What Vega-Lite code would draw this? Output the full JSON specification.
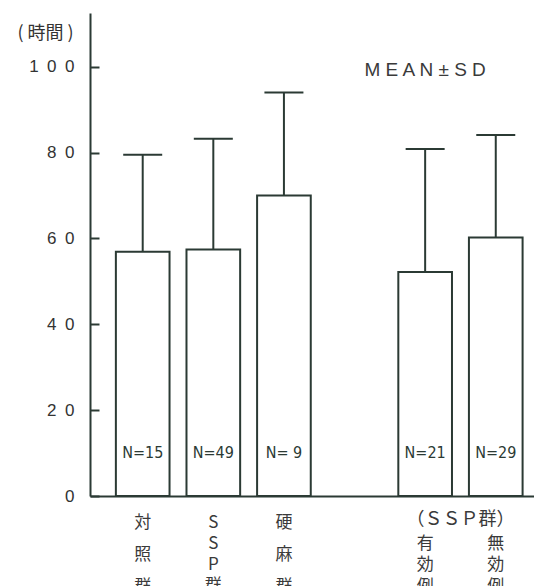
{
  "$schema": "https://vega.github.io/schema/vega-lite/v6.json",
  "width": 444,
  "height": 483,
  "autosize": "none",
  "padding": {"left": 90, "top": 13, "right": 0, "bottom": 90},
  "background": "white",
  "config": {"view": {"stroke": null}, "axis": {"grid": false}},
  "resolve": {"axis": {"y": "independent", "x": "independent"}},
  "data": {"values": [
    {"group": "対照群", "mean": 56.9, "upper": 79.5, "n": "N=15"},
    {"group": "SSP群", "mean": 57.4, "upper": 83.2, "n": "N=49"},
    {"group": "硬麻群", "mean": 70.0, "upper": 94.0, "n": "N= 9"},
    {"group": "有効例", "mean": 52.2, "upper": 80.8, "n": "N=21"},
    {"group": "無効例", "mean": 60.2, "upper": 84.1, "n": "N=29"}
  ]},
  "layer": [
    {
      "mark": {"type": "bar", "fill": "white", "stroke": "#2b3a34", "strokeWidth": 2},
      "encoding": {
        "x": {
          "field": "group", "type": "nominal",
          "scale": {"domain": ["対照群", "SSP群", "硬麻群", "gap", "有効例", "無効例"], "paddingInner": 0.24, "paddingOuter": 0.264, "align": 0.694},
          "axis": {
            "orient": "bottom",
            "title": null, "domain": true, "domainColor": "#2b3a34", "domainWidth": 2, "ticks": false,
            "labelAngle": 0, "labelOverlap": false, "labelBound": false, "labelFlush": false,
            "labelFont": "Noto Sans CJK JP", "labelFontSize": 17, "labelLineHeight": 32, "labelPadding": 18,
            "labelColor": "#3a3a3a", "labelBaseline": "top",
            "labelExpr": "datum.value == '対照群' ? ['対','照','群'] : datum.value == '硬麻群' ? ['硬','麻','群'] : ''"
          }
        },
        "y": {
          "field": "mean", "type": "quantitative",
          "scale": {"domain": [0, 112.5], "nice": false, "zero": true},
          "axis": {
            "orient": "left",
            "values": [0, 20, 40, 60, 80, 100],
            "labelExpr": "datum.value == 100 ? '1\u20020\u20020' : datum.value == 0 ? '0' : (floor(datum.value/10) + '\u20020')",
            "domainColor": "#2b3a34", "domainWidth": 2, "ticks": false,
            "labelPadding": 16, "labelFont": "Liberation Sans", "labelFontSize": 17, "labelColor": "#333333",
            "title": "(  時間  )", "titleAngle": 0, "titleX": -45, "titleY": 20, "titleAlign": "center", "titleBaseline": "middle",
            "titleFont": "Noto Sans CJK JP", "titleFontSize": 18, "titleFontWeight": "normal", "titleColor": "#333333"
          }
        }
      }
    },
    {
      "mark": {"type": "rule", "stroke": "#2b3a34", "strokeWidth": 2},
      "encoding": {
        "x": {
          "field": "group", "type": "nominal",
          "axis": {
            "orient": "bottom",
            "title": null, "domain": false, "ticks": false,
            "labelAngle": 0, "labelOverlap": false, "labelBound": false, "labelFlush": false,
            "labelFont": "Noto Sans CJK JP", "labelFontSize": 17, "labelLineHeight": 21.3, "labelPadding": 18,
            "labelColor": "#3a3a3a", "labelBaseline": "top",
            "labelExpr": "datum.value == 'SSP群' ? ['S','S','P','群'] : ''"
          }
        },
        "y": {
          "field": "mean", "type": "quantitative",
          "axis": {"orient": "left", "offset": -9, "values": [0, 20, 40, 60, 80, 100], "labels": false, "domain": false, "ticks": true, "tickSize": 9, "tickWidth": 2, "tickColor": "#2b3a34", "title": null}
        },
        "y2": {"field": "upper"}
      }
    },
    {
      "mark": {"type": "tick", "color": "#2b3a34", "size": 39, "thickness": 2, "opacity": 1},
      "encoding": {
        "x": {
          "field": "group", "type": "nominal",
          "axis": {
            "orient": "bottom",
            "title": null, "domain": false, "ticks": false,
            "labelAngle": 0, "labelOverlap": false, "labelBound": false, "labelFlush": false,
            "labelFont": "Noto Sans CJK JP", "labelFontSize": 17, "labelLineHeight": 21.3, "labelPadding": 39.5,
            "labelColor": "#3a3a3a", "labelBaseline": "top",
            "labelExpr": "datum.value == '有効例' ? ['有','効','例'] : datum.value == '無効例' ? ['無','効','例'] : ''"
          }
        },
        "y": {"field": "upper", "type": "quantitative", "axis": null}
      }
    },
    {
      "mark": {"type": "text", "font": "DejaVu Sans Condensed", "fontSize": 16, "color": "#2b3a34", "baseline": "middle", "align": "center"},
      "encoding": {
        "x": {"field": "group", "type": "nominal", "axis": null},
        "y": {"datum": 10, "type": "quantitative", "axis": null},
        "text": {"field": "n"}
      }
    },
    {
      "data": {"values": [{"label": "M E A N ± S D"}]},
      "mark": {"type": "text", "font": "Liberation Sans", "fontSize": 19, "color": "#3a3a3a", "baseline": "middle", "align": "center"},
      "encoding": {
        "x": {"datum": "有効例", "axis": null},
        "y": {"datum": 99.2, "type": "quantitative", "axis": null},
        "text": {"field": "label"}
      }
    },
    {
      "data": {"values": [{"label": "（ＳＳＰ群）"}]},
      "mark": {"type": "text", "font": "Noto Sans CJK JP", "fontSize": 18, "color": "#3a3a3a", "baseline": "middle", "align": "center", "dx": 35.3},
      "encoding": {
        "x": {"datum": "有効例", "axis": null},
        "y": {"datum": -5.6, "type": "quantitative", "axis": null},
        "text": {"field": "label"}
      }
    }
  ]
}
